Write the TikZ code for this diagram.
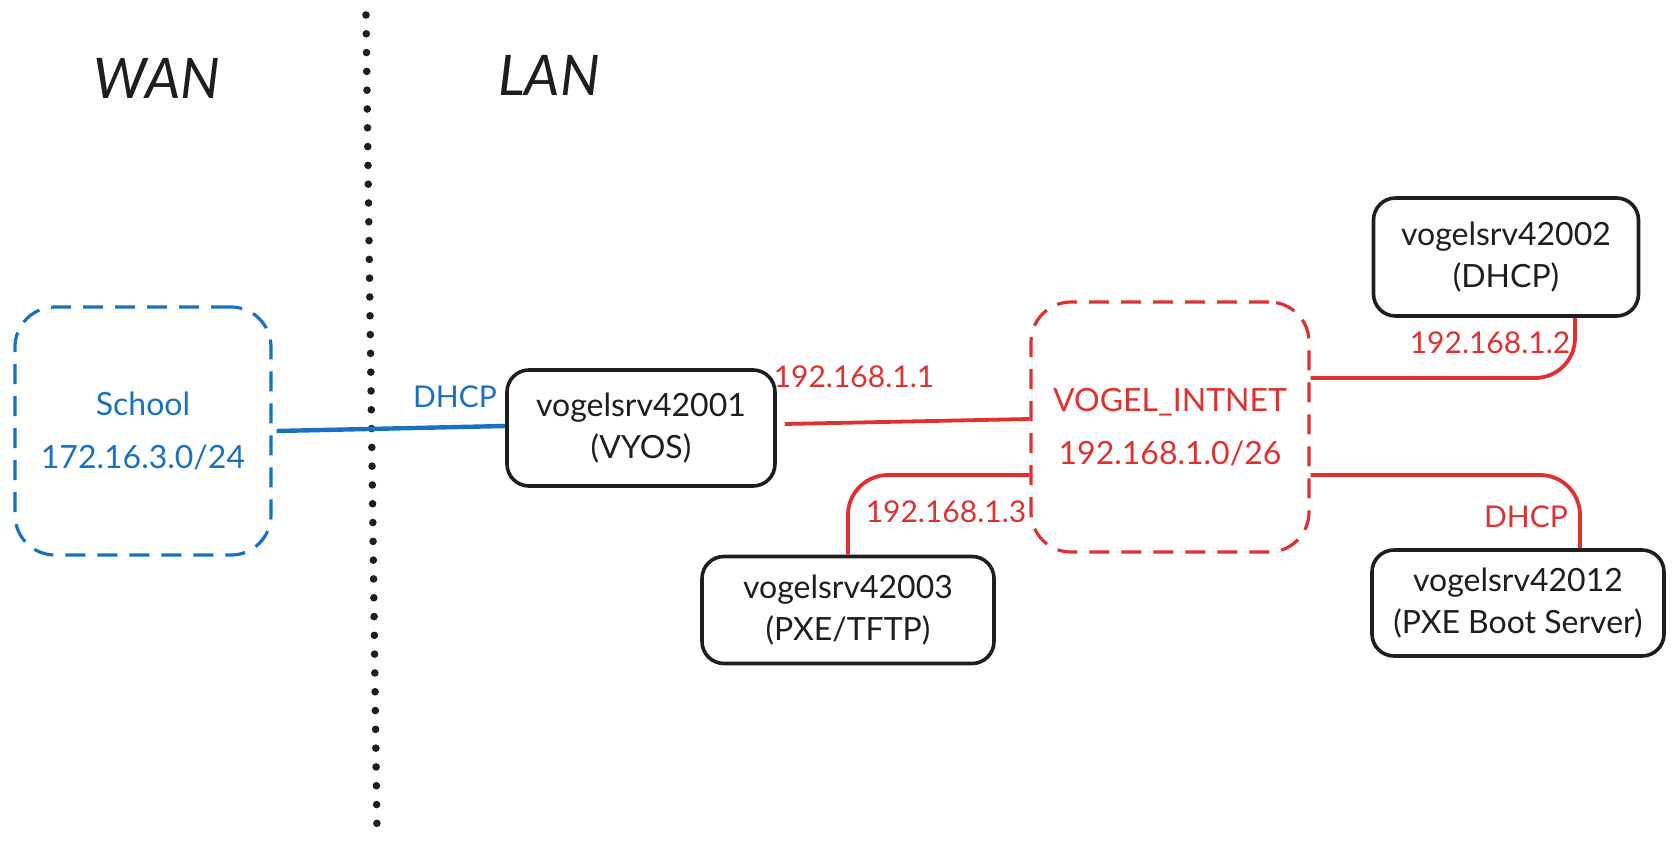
\documentclass[tikz,border=0pt]{standalone}
\usepackage{fontspec}
\setmainfont{Lato}
\usetikzlibrary{calc}
\definecolor{inkblack}{HTML}{1E1E1E}
\definecolor{inkblue}{HTML}{1971C2}
\definecolor{inkred}{HTML}{E03131}
\tikzset{
  srvbox/.style={draw=inkblack, line width=1.8pt, rounded corners=11pt, align=center,
    font=\fontsize{16}{21}\selectfont, text=inkblack},
  netbox/.style={draw, dashed, dash pattern=on 10pt off 6pt, line width=1.6pt, rounded corners=20pt,
    align=center, font=\fontsize{16}{26.5}\selectfont},
  bluenet/.style={netbox, draw=inkblue, text=inkblue},
  rednet/.style={netbox, draw=inkred, text=inkred},
  iplabel/.style={font=\fontsize{15}{18}\selectfont, text=inkred, inner sep=0pt},
  bluelabel/.style={font=\fontsize{15}{18}\selectfont, text=inkblue, inner sep=0pt},
  zonelabel/.style={font=\fontsize{28}{32}\selectfont\itshape, text=inkblack},
  redlink/.style={draw=inkred, line width=1.9pt, rounded corners=20pt},
  bluelink/.style={draw=inkblue, line width=2.2pt},
  divider/.style={draw=inkblack, line width=3.8pt, line cap=round, dash pattern=on 0pt off 9.4pt}
}
\begin{document}
\begin{tikzpicture}[x=0.5pt, y=-0.5pt]
\useasboundingbox (0,0) rectangle (1680,851);

% zone labels and divider
\node[zonelabel] (wan) at (157,78) {WAN};
\node[zonelabel] (lan) at (549,75) {LAN};
\coordinate (divtop) at (366,15);
\coordinate (divbot) at (377,833);
\draw[divider] (divtop) -- (divbot);

% networks
\node[bluenet, minimum width=128pt, minimum height=124pt] (school) at (143,431) {School\\172.16.3.0/24};
\node[rednet, minimum width=139pt, minimum height=125pt] (intnet) at (1170,427) {VOGEL\_INTNET\\192.168.1.0/26};

% servers
\node[srvbox, minimum width=134pt, minimum height=58pt] (vyos) at (641,428) {vogelsrv42001\\(VYOS)};
\node[srvbox, minimum width=146pt, minimum height=53.5pt] (pxe) at (848,610) {vogelsrv42003\\(PXE/TFTP)};
\node[srvbox, minimum width=132.5pt, minimum height=59pt] (dhcp) at (1506,257) {vogelsrv42002\\(DHCP)};
\node[srvbox, minimum width=146pt, minimum height=53pt] (boot) at (1518,603) {vogelsrv42012\\(PXE Boot Server)};

% connectors
\draw[bluelink] ([xshift=2pt]school.east) -- ([yshift=1pt]vyos.west);
\draw[redlink] ([xshift=4pt,yshift=2pt]vyos.east) -- ([yshift=4pt]intnet.west);
\draw[redlink] ([yshift=-24pt]intnet.west) -| (pxe.north);
\draw[redlink] ([xshift=34.5pt]dhcp.south) |- ([yshift=24.5pt]intnet.east);
\draw[redlink] ([yshift=-24pt]intnet.east) -| ([xshift=31pt]boot.north);

% connector labels
\node[bluelabel] (wandhcp) at (455,397) {DHCP};
\node[iplabel] (ip1) at (854,377) {192.168.1.1};
\node[iplabel] (ip3) at (946,512) {192.168.1.3};
\node[iplabel] (ip2) at (1490,343) {192.168.1.2};
\node[iplabel] (bootdhcp) at (1526,517) {DHCP};
\end{tikzpicture}
\end{document}
